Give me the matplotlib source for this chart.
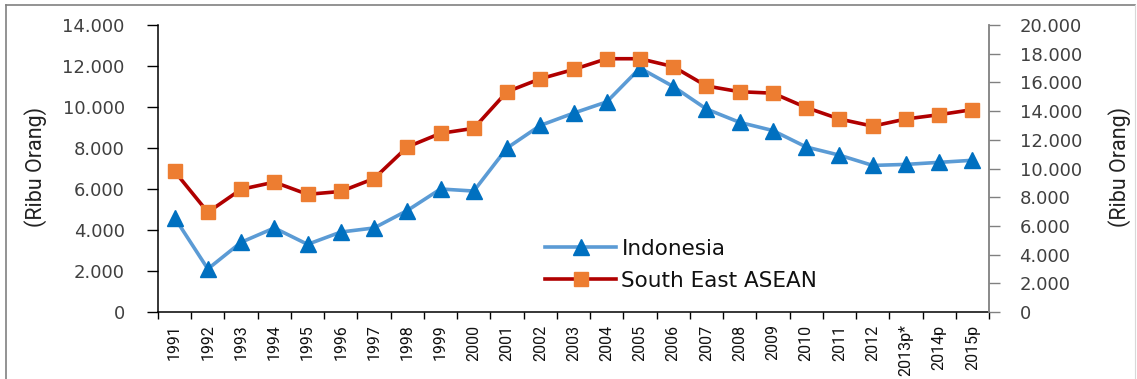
import matplotlib
matplotlib.use("Agg")
import matplotlib.pyplot as plt
from matplotlib.ticker import FuncFormatter, FixedLocator
from matplotlib.lines import Line2D

years = ["1991", "1992", "1993", "1994", "1995", "1996", "1997", "1998", "1999",
         "2000", "2001", "2002", "2003", "2004", "2005", "2006", "2007", "2008",
         "2009", "2010", "2011", "2012", "2013p*", "2014p", "2015p"]
indonesia = [4600, 2100, 3400, 4100, 3300, 3900, 4100, 4950, 6000, 5900, 8000,
             9100, 9700, 10250, 11900, 11000, 9900, 9250, 8850, 8050, 7650,
             7150, 7200, 7300, 7400]
asean = [9800, 6950, 8550, 9050, 8200, 8400, 9300, 11500, 12450, 12800, 15350,
         16250, 16900, 17650, 17650, 17100, 15750, 15350, 15250, 14250, 13450,
         12950, 13450, 13750, 14100]
left_ticks = [0, 2000, 4000, 6000, 8000, 10000, 12000, 14000]
right_ticks = [0, 2000, 4000, 6000, 8000, 10000, 12000, 14000, 16000, 18000, 20000]
ylabel = "(Ribu Orang)"

W, H = 1137, 379
fig = plt.figure(figsize=(W / 100, H / 100), dpi=100)

ax = fig.add_axes([158 / W, 1 - 312 / H, (989 - 158) / W, (312 - 25) / H])
ax2 = ax.twinx()

x = list(range(len(years)))

def fmt(v, pos=None):
    return f"{int(round(v)):,}".replace(",", ".")

lab_color = "#404040"
tick_font = "DejaVu Sans"
narrow = ["Roboto", "DejaVu Sans"]

l1, = ax.plot(x, indonesia, color="#5B9BD5", lw=2.6, marker="^", ms=12,
              mfc="#0070C0", mec="#0070C0", label="Indonesia", zorder=3)
l2, = ax2.plot(x, asean, color="#B00000", lw=2.6, marker="s", ms=10.5,
               mfc="#ED7D31", mec="#ED7D31", label="South East ASEAN", zorder=3)

ax.set_xlim(-0.5, len(years) - 0.5)
ax.set_ylim(0, 14000)
ax2.set_ylim(0, 20000)

ax.set_xticks(x)
ax.set_xticklabels(years, rotation=90, fontsize=11.5, family=narrow, color="#111111")
ax.tick_params(axis="x", which="major", length=0, pad=9)
ax.xaxis.set_minor_locator(FixedLocator([i - 0.5 for i in range(len(years) + 1)]))
ax.tick_params(axis="x", which="minor", length=5, width=1, direction="out", color="black")

ax.set_yticks(left_ticks)
ax.yaxis.set_major_formatter(FuncFormatter(fmt))
ax.tick_params(axis="y", length=8, width=1, direction="out", pad=16,
               labelsize=13, labelcolor=lab_color, color="black")
for t in ax.get_yticklabels():
    t.set_family(tick_font)

ax2.set_yticks(right_ticks)
ax2.yaxis.set_major_formatter(FuncFormatter(fmt))
ax2.tick_params(axis="y", length=8, width=1, direction="out", pad=14,
                labelsize=13, labelcolor=lab_color, color="#808080")
for t in ax2.get_yticklabels():
    t.set_family(tick_font)

for a in (ax, ax2):
    a.spines["top"].set_visible(False)
ax.spines["right"].set_visible(False)
ax2.spines["left"].set_visible(False)
ax2.spines["bottom"].set_visible(False)
ax2.spines["right"].set_color("#808080")
ax2.spines["right"].set_linewidth(1.3)
ax.spines["left"].set_color("black")
ax.spines["bottom"].set_color("black")
ax.spines["left"].set_linewidth(1.1)
ax.spines["bottom"].set_linewidth(1.1)

fig.text(36 / W, 1 - 167 / H, ylabel, rotation=90, ha="center", va="center",
         fontsize=15.5, family=narrow, color="#222222")
fig.text(1120 / W, 1 - 167 / H, ylabel, rotation=90, ha="center", va="center",
         fontsize=15.5, family=narrow, color="#222222")

leg = fig.legend(handles=[l1, l2], loc="upper left",
                 bbox_to_anchor=(545 / W, 1 - 239 / H), bbox_transform=fig.transFigure,
                 frameon=False, borderpad=0, borderaxespad=0, handlelength=3.3,
                 handletextpad=0.25, labelspacing=0.55,
                 prop={"family": "DejaVu Sans", "size": 15.5})
for t in leg.get_texts():
    t.set_color("#111111")

# outer frame
fig.add_artist(Line2D([6 / W, 6 / W], [0, 1 - 5 / H], transform=fig.transFigure,
                      color="#808080", lw=1.2))
fig.add_artist(Line2D([6 / W, 1135 / W], [1 - 5 / H, 1 - 5 / H], transform=fig.transFigure,
                      color="#808080", lw=1.2))
fig.add_artist(Line2D([1135 / W, 1135 / W], [0, 1 - 5 / H], transform=fig.transFigure,
                      color="#d8d8d8", lw=0.8))

fig.savefig("out.png", dpi=100)
